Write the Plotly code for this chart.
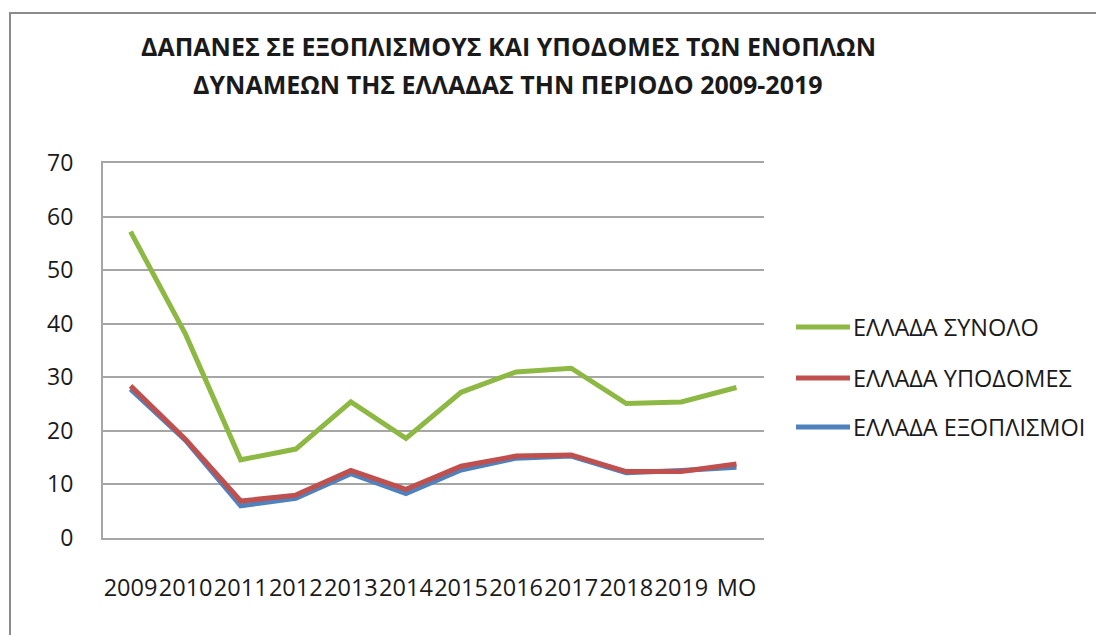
import plotly.graph_objects as go

categories = ["2009", "2010", "2011", "2012", "2013", "2014", "2015", "2016", "2017", "2018", "2019", "MO"]
synolo = [57.2, 38.0, 14.6, 16.6, 25.4, 18.6, 27.2, 31.0, 31.7, 25.1, 25.4, 28.1]
ypodomes = [28.4, 18.4, 6.9, 8.0, 12.6, 9.1, 13.4, 15.3, 15.5, 12.4, 12.4, 13.8]
exoplismoi = [27.8, 18.2, 6.0, 7.4, 12.0, 8.3, 12.7, 14.9, 15.3, 12.2, 12.6, 13.2]
series_names = ["ΕΛΛΑΔΑ ΣΥΝΟΛΟ", "ΕΛΛΑΔΑ ΥΠΟΔΟΜΕΣ", "ΕΛΛΑΔΑ ΕΞΟΠΛΙΣΜΟΙ"]
y_ticks = [0, 10, 20, 30, 40, 50, 60, 70]
title_lines = ["ΔΑΠΑΝΕΣ ΣΕ ΕΞΟΠΛΙΣΜΟΥΣ ΚΑΙ ΥΠΟΔΟΜΕΣ ΤΩΝ ΕΝΟΠΛΩΝ",
               "ΔΥΝΑΜΕΩΝ ΤΗΣ ΕΛΛΑΔΑΣ ΤΗΝ ΠΕΡΙΟΔΟ 2009-2019"]

GREEN = "#8DB843"
RED = "#C0504D"
BLUE = "#4F81BD"
GRID = "#A6A6A6"
TEXT = "#1a1a1a"
FONT = "Open Sans, Noto Sans, sans-serif"

OFF = 8  # page body margin
W, H = 1104 - OFF, 635 - OFF
# plot area in window pixels
L, R, T, B = 103, 764, 163, 538


def px(x):
    return (x - L) / (R - L)


def py(y):
    return (B - y) / (B - T)


fig = go.Figure()
fig.add_trace(go.Scatter(x=categories, y=exoplismoi, mode="lines", name=series_names[2],
                         line=dict(color=BLUE, width=5), showlegend=False))
fig.add_trace(go.Scatter(x=categories, y=ypodomes, mode="lines", name=series_names[1],
                         line=dict(color=RED, width=5), showlegend=False))
fig.add_trace(go.Scatter(x=categories, y=synolo, mode="lines", name=series_names[0],
                         line=dict(color=GREEN, width=5), showlegend=False))

shapes = []
annotations = []

# outer chart frame (extends past the visible window)
shapes.append(dict(type="rect", xref="paper", yref="paper",
                   x0=px(10), x1=px(1200), y0=py(13), y1=py(700),
                   line=dict(color="#8C8C8C", width=2), fillcolor="rgba(0,0,0,0)", layer="below"))

# manual legend
legend_rows = [(327, GREEN, series_names[0]), (378, RED, series_names[1]), (427, BLUE, series_names[2])]
for yy, col, name in legend_rows:
    shapes.append(dict(type="line", xref="paper", yref="paper",
                       x0=px(796), x1=px(850), y0=py(yy), y1=py(yy),
                       line=dict(color=col, width=5)))
    annotations.append(dict(text=name, xref="paper", yref="paper", x=px(851), y=py(yy),
                            xanchor="left", yanchor="middle", showarrow=False,
                            font=dict(family=FONT, size=23.5, color=TEXT)))

# title lines
for yy, line in zip([46, 84], title_lines):
    annotations.append(dict(text="<b>" + line + "</b>", xref="paper", yref="paper",
                            x=px(508), y=py(yy), xanchor="center", yanchor="middle",
                            showarrow=False, font=dict(family=FONT, size=25, color=TEXT)))

fig.update_layout(
    width=W, height=H,
    margin=dict(l=L - OFF, r=(W + OFF) - R, t=T - OFF, b=(H + OFF) - B, pad=0),
    paper_bgcolor="white", plot_bgcolor="white",
    shapes=shapes, annotations=annotations,
    showlegend=False,
)
fig.update_xaxes(type="category", range=[-0.5, 11.5], showgrid=False,
                 showline=True, mirror=True, linecolor=GRID, linewidth=2, ticks="",
                 tickangle=0,
                 tickfont=dict(family=FONT, size=23.5, color=TEXT),
                 ticklabelstandoff=28, fixedrange=True)
fig.update_yaxes(range=[0, 70], tickvals=y_ticks, showgrid=True, gridcolor=GRID, gridwidth=2,
                 showline=True, linecolor=GRID, linewidth=2, ticks="", zeroline=False,
                 tickfont=dict(family=FONT, size=23, color=TEXT),
                 ticklabelstandoff=23, fixedrange=True)

fig.write_html("out.html", config=dict(displayModeBar=False))
